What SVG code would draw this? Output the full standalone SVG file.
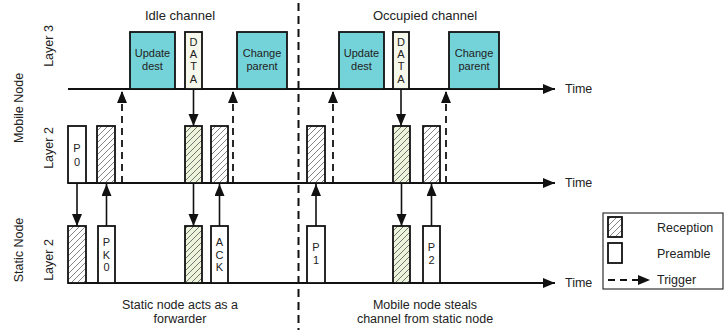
<svg xmlns="http://www.w3.org/2000/svg" width="724" height="331" viewBox="0 0 724 331">
<defs>
<style>
text{font-family:"Liberation Sans",Arial,sans-serif;fill:#222;}
.t{font-size:13px;text-anchor:middle;}
.lbl{font-size:12.5px;text-anchor:middle;}
.st{text-anchor:start;}
.bx{font-size:11px;text-anchor:middle;}
.axis{stroke:#111;stroke-width:1.8;fill:none;}
.box{stroke:#111;stroke-width:1.8;}
.cyan{fill:#74D3D9;}
.cream{fill:#F5F8EA;}
.white{fill:#fff;}
.hatch{fill:url(#h);}
.ghatch{fill:url(#gh);}
.arr{stroke:#111;stroke-width:1.6;fill:none;marker-end:url(#ah);}
.trig{stroke:#111;stroke-width:1.8;fill:none;stroke-dasharray:7,5;marker-end:url(#ah);}
.div{stroke:#111;stroke-width:2;stroke-dasharray:8,5;fill:none;}
</style>
<pattern id="h" patternUnits="userSpaceOnUse" width="6" height="6">
<rect width="6" height="6" fill="#fff"/>
<path d="M-1,1 L1,-1 M0,6 L6,0 M5,7 L7,5" stroke="#666" stroke-width="0.8"/>
</pattern>
<pattern id="gh" patternUnits="userSpaceOnUse" width="6" height="6">
<rect width="6" height="6" fill="#EDF4DC"/>
<path d="M-1,1 L1,-1 M0,6 L6,0 M5,7 L7,5" stroke="#555" stroke-width="0.8"/>
</pattern>
<marker id="ah" markerUnits="userSpaceOnUse" markerWidth="14" markerHeight="12" refX="12" refY="5" orient="auto">
<path d="M0,0 L12,5 L0,10 Z" fill="#111"/>
</marker>
</defs>

<g id="titles">
<text class="t" x="180" y="20">Idle channel</text>
<text class="t" x="425" y="20">Occupied channel</text>
</g>

<g id="side-labels">
<text class="lbl" transform="translate(23,108) rotate(-90)">Mobile Node</text>
<text class="lbl" transform="translate(23,250) rotate(-90)">Static Node</text>
<text class="lbl" transform="translate(53,46) rotate(-90)">Layer 3</text>
<text class="lbl" transform="translate(53,148) rotate(-90)">Layer 2</text>
<text class="lbl" transform="translate(53,260) rotate(-90)">Layer 2</text>
</g>

<g id="axes">
<line class="axis" x1="68" y1="89" x2="555" y2="89" marker-end="url(#ah)"/>
<line class="axis" x1="68" y1="183" x2="555" y2="183" marker-end="url(#ah)"/>
<line class="axis" x1="68" y1="283" x2="555" y2="283" marker-end="url(#ah)"/>
<text class="lbl st" x="565" y="93">Time</text>
<text class="lbl st" x="565" y="187">Time</text>
<text class="lbl st" x="565" y="287">Time</text>
</g>

<g id="divider">
<line class="div" x1="298.5" y1="3" x2="298.5" y2="330"/>
</g>

<g id="l3-left">
<g id="update-dest-1"><rect class="box cyan" x="130" y="32" width="45" height="57"/><text class="bx" x="152.5" y="57">Update</text><text class="bx" x="152.5" y="70">dest</text></g>
<g id="data-1"><rect class="box cream" x="185" y="32" width="17" height="57"/>
<text class="bx" x="193.5" y="46">D</text><text class="bx" x="193.5" y="58">A</text><text class="bx" x="193.5" y="70">T</text><text class="bx" x="193.5" y="83">A</text></g>
<g id="change-parent-1"><rect class="box cyan" x="237" y="32" width="50" height="57"/><text class="bx" x="262" y="57">Change</text><text class="bx" x="262" y="70">parent</text></g>
</g>

<g id="l3-right">
<g id="update-dest-2"><rect class="box cyan" x="339" y="32" width="45" height="57"/><text class="bx" x="361.5" y="57">Update</text><text class="bx" x="361.5" y="70">dest</text></g>
<g id="data-2"><rect class="box cream" x="393" y="32" width="16" height="57"/>
<text class="bx" x="401" y="46">D</text><text class="bx" x="401" y="58">A</text><text class="bx" x="401" y="70">T</text><text class="bx" x="401" y="83">A</text></g>
<g id="change-parent-2"><rect class="box cyan" x="449" y="32" width="50" height="57"/><text class="bx" x="474" y="57">Change</text><text class="bx" x="474" y="70">parent</text></g>
</g>

<g id="mobile-l2">
<g id="p0"><rect class="box white" x="68" y="126" width="18" height="57"/><text class="bx" x="77" y="152">P</text><text class="bx" x="77" y="166">0</text></g>
<g id="m-rx1"><rect class="box hatch" x="97" y="126" width="18" height="57"/></g>
<g id="m-rx2"><rect class="box ghatch" x="185" y="126" width="17" height="57"/></g>
<g id="m-rx3"><rect class="box hatch" x="211" y="126" width="17" height="57"/></g>
<g id="m-rx4"><rect class="box hatch" x="307" y="126" width="18" height="57"/></g>
<g id="m-rx5"><rect class="box ghatch" x="393" y="126" width="17" height="57"/></g>
<g id="m-rx6"><rect class="box hatch" x="423" y="126" width="17" height="57"/></g>
</g>

<g id="static-l2">
<g id="s-rx1"><rect class="box hatch" x="68" y="226" width="18" height="57"/></g>
<g id="pk0"><rect class="box white" x="98" y="226" width="17" height="57"/><text class="bx" x="106.5" y="246">P</text><text class="bx" x="106.5" y="259">K</text><text class="bx" x="106.5" y="271">0</text></g>
<g id="s-rx2"><rect class="box ghatch" x="185" y="226" width="17" height="57"/></g>
<g id="ack"><rect class="box white" x="211" y="226" width="17" height="57"/><text class="bx" x="219.5" y="246">A</text><text class="bx" x="219.5" y="259">C</text><text class="bx" x="219.5" y="271">K</text></g>
<g id="p1"><rect class="box white" x="307" y="226" width="18" height="57"/><text class="bx" x="316" y="251">P</text><text class="bx" x="316" y="264">1</text></g>
<g id="s-rx3"><rect class="box ghatch" x="393" y="226" width="17" height="57"/></g>
<g id="p2"><rect class="box white" x="423" y="226" width="17" height="57"/><text class="bx" x="431.5" y="251">P</text><text class="bx" x="431.5" y="264">2</text></g>
</g>

<g id="connectors">
<line class="arr" x1="193.5" y1="89" x2="193.5" y2="126"/>
<line class="arr" x1="401" y1="89" x2="401" y2="126"/>
<line class="arr" x1="77" y1="183" x2="77" y2="226"/>
<line class="arr" x1="106.5" y1="226" x2="106.5" y2="184"/>
<line class="arr" x1="193.5" y1="183" x2="193.5" y2="226"/>
<line class="arr" x1="219.5" y1="226" x2="219.5" y2="184"/>
<line class="arr" x1="316" y1="226" x2="316" y2="184"/>
<line class="arr" x1="401.5" y1="183" x2="401.5" y2="226"/>
<line class="arr" x1="431.5" y1="226" x2="431.5" y2="184"/>
<line class="trig" x1="122" y1="183" x2="122" y2="91"/>
<line class="trig" x1="233" y1="183" x2="233" y2="91"/>
<line class="trig" x1="333" y1="183" x2="333" y2="91"/>
<line class="trig" x1="446" y1="183" x2="446" y2="91"/>
</g>

<g id="captions">
<text class="lbl" x="180" y="309">Static node acts as a</text>
<text class="lbl" x="180" y="323">forwarder</text>
<text class="lbl" x="425" y="309">Mobile node steals</text>
<text class="lbl" x="425" y="323">channel from static node</text>
</g>

<g id="legend">
<rect x="603" y="213" width="120" height="76" fill="#fff" stroke="#333" stroke-width="1.2"/>
<rect class="box hatch" x="608" y="217" width="14" height="20"/>
<rect class="box white" x="608" y="243" width="14" height="20"/>
<line x1="608" y1="280" x2="638" y2="280" stroke="#111" stroke-width="1.8" stroke-dasharray="7,5"/>
<path d="M638,275 L650,280 L638,285 Z" fill="#111"/>
<text class="lbl st" x="657" y="232">Reception</text>
<text class="lbl st" x="657" y="258">Preamble</text>
<text class="lbl st" x="657" y="284">Trigger</text>
</g>
</svg>
